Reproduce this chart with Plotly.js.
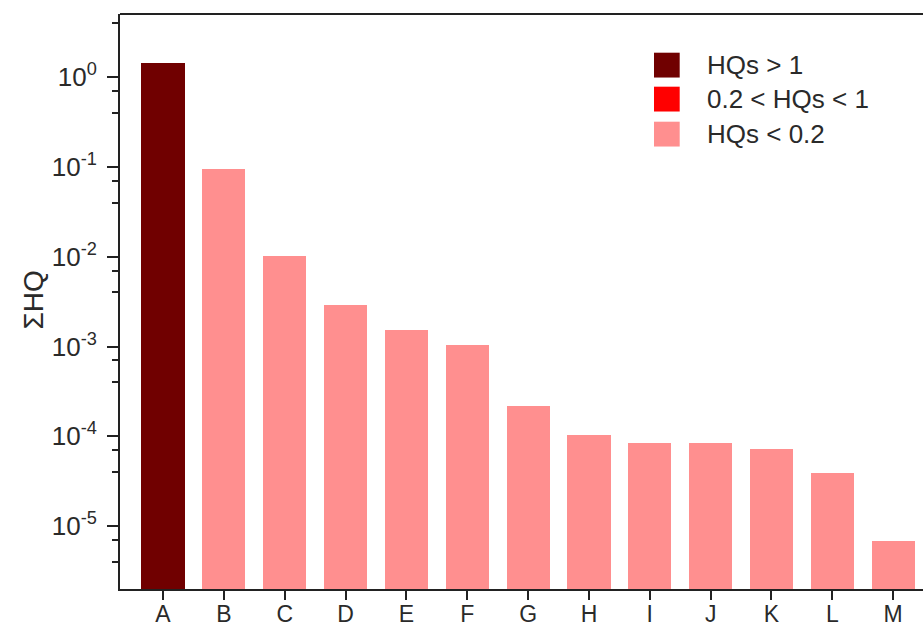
<!DOCTYPE html>
<html>
<head>
<meta charset="utf-8">
<script src="https://cdn.plot.ly/plotly-3.0.1.min.js"></script>
<style>html,body{margin:0;padding:0;background:#fff;}#chart{width:923px;height:631px;}</style>
</head>
<body>
<div id="chart"></div>
<script>
// ---- data ----
const categories = ["A","B","C","D","E","F","G","H","I","J","K","L","M"];
const sumHQ = [1.45, 0.095, 0.0102, 0.0029, 0.00152, 0.00104, 0.00022, 0.000103, 0.000084, 0.000084, 0.000073, 0.000039, 0.0000068];
const legendLabels = ["HQs > 1", "0.2 < HQs < 1", "HQs < 0.2"];
const legendColors = ["#700000", "#FF0000", "#FF8F8F"];
const yTickVals = [1e-5, 1e-4, 1e-3, 1e-2, 1e-1, 1];
const yTickText = ["10<sup>-5</sup>","10<sup>-4</sup>","10<sup>-3</sup>","10<sup>-2</sup>","10<sup>-1</sup>","10<sup>0</sup>"];
const yMinorVals = [4e-6,7e-6,4e-5,7e-5,4e-4,7e-4,4e-3,7e-3,4e-2,7e-2,4e-1,7e-1,4];
const yTitle = "ΣHQ";

const barColors = sumHQ.map(v => v > 1 ? legendColors[0] : (v > 0.2 ? legendColors[1] : legendColors[2]));

const font = "Liberation Sans, Arial, Helvetica, sans-serif";
const txt = "#2a2a2a";

const trace = {
  type: "bar",
  x: categories,
  y: sumHQ,
  width: 0.71,
  marker: {color: barColors, line: {width: 0}},
  showlegend: false,
  hoverinfo: "x+y"
};

// custom legend (large square keys)
const shapes = [
  {type:"line", xref:"paper", yref:"paper", x0:0, x1:1, y0:1, y1:1, line:{color:"#222", width:2}}
];
const annotations = [
  {xref:"paper", yref:"paper", x:-0.1075, y:0.503, xanchor:"center", yanchor:"middle", textangle:-90,
   text:yTitle, showarrow:false, font:{family:font, size:28, color:txt}}
];
const keyTop = [0.9327, 0.8736, 0.8127];
const keyH = 0.0432;
legendLabels.forEach((lab, i) => {
  shapes.push({type:"rect", xref:"paper", yref:"paper", x0:0.665, x1:0.697,
    y0:keyTop[i]-keyH, y1:keyTop[i], fillcolor:legendColors[i], line:{width:0}});
  annotations.push({xref:"paper", yref:"paper", x:0.7285, y:keyTop[i]-keyH/2, xanchor:"left", yanchor:"middle",
    text:lab, showarrow:false, font:{family:font, size:26, color:txt}});
});

const layout = {
  width: 923, height: 631,
  margin: {l:120, r:0, t:14, b:42},
  paper_bgcolor: "#fff", plot_bgcolor: "#fff",
  font: {family: font, size: 24, color: txt},
  bargap: 0,
  xaxis: {
    type: "category",
    range: [-0.707, 12.49],
    showline: true, linecolor: "#222", linewidth: 2,
    ticks: "outside", ticklen: 9, tickwidth: 2, tickcolor: "#222",
    showgrid: false, zeroline: false,
    ticklabelstandoff: -6,
    tickfont: {family: font, size: 23, color: txt},
    fixedrange: true
  },
  yaxis: {
    type: "log",
    range: [-5.702, 0.705],
    showline: true, linecolor: "#222", linewidth: 2,
    ticks: "outside", ticklen: 11, tickwidth: 2, tickcolor: "#222",
    tickmode: "array", tickvals: yTickVals, ticktext: yTickText,
    minor: {tickmode: "array", tickvals: yMinorVals, ticks: "outside", ticklen: 6, tickwidth: 2, tickcolor: "#222", showgrid: false},
    showgrid: false, zeroline: false,
    ticklabelstandoff: 5,
    tickfont: {family: font, size: 26, color: txt},
    fixedrange: true
  },
  shapes: shapes,
  annotations: annotations
};

Plotly.newPlot("chart", [trace], layout, {displayModeBar: false, staticPlot: true});
</script>
</body>
</html>
